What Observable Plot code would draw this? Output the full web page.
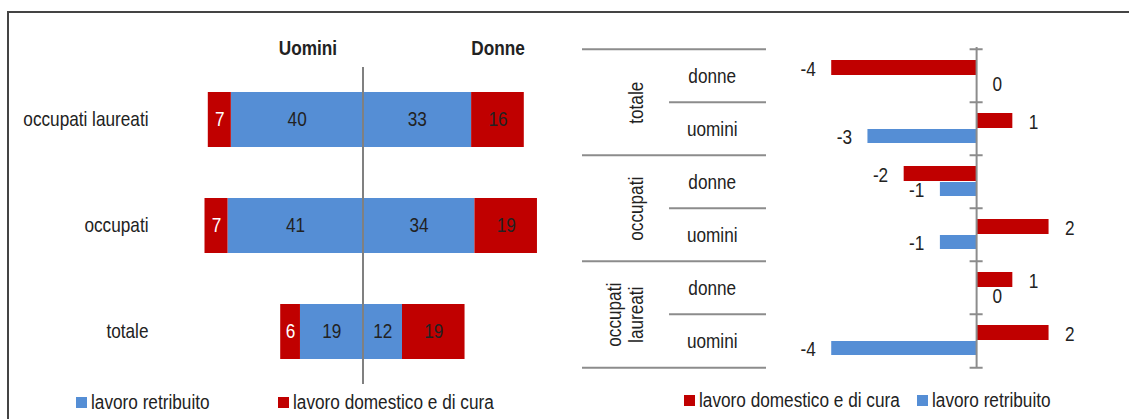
<!DOCTYPE html>
<html>
<head>
<meta charset="utf-8">
<script src="https://cdn.jsdelivr.net/npm/d3@7"></script>
<script src="https://cdn.jsdelivr.net/npm/@observablehq/plot@0.6"></script>
<style>
  body { margin: 0; background: #fff; }
  #chart {
    position: relative; width: 1129px; height: 419px; overflow: hidden;
    font-family: "Liberation Sans", Arial, sans-serif; color: #222;
  }
  #frame {
    position: absolute; left: 7px; top: 11px; right: -10px; bottom: -10px;
    border-top: 2px solid #444; border-left: 2px solid #444;
  }
  #chart svg { position: absolute; top: 0; overflow: visible; }
  .narrow { display: inline-block; transform: scaleX(0.86); transform-origin: 0 50%; }
  .header { position: absolute; font-size: 20px; font-weight: bold; line-height: 20px; white-space: nowrap;
            transform: translateX(-50%) scaleX(0.86); transform-origin: 50% 50%; }
  .item { position: absolute; display: flex; align-items: center; font-size: 20px; line-height: 20px; white-space: nowrap; }
  .sw { display: inline-block; width: 11px; height: 11px; margin-right: 4px; flex: none; }
</style>
</head>
<body>
<div id="chart"><div id="frame"></div></div>
<script>
// Ore settimanali: lavoro retribuito e lavoro domestico e di cura
const categorie = ["occupati laureati", "occupati", "totale"];
const uominiRetribuito = [40, 41, 19];
const uominiDomestico = [7, 7, 6];
const donneRetribuito = [33, 34, 12];
const donneDomestico = [16, 19, 19];

// Differenze per gruppo e sesso
const gruppi = ["totale", "occupati", "occupati\nlaureati"];
const sessi = ["donne", "uomini"];
const diffDomestico = [-4, 1, -2, 2, 1, 2];
const diffRetribuito = [0, -3, -1, -1, 0, -4];

const intestazioni = ["Uomini", "Donne"];
const tipi = ["lavoro retribuito", "lavoro domestico e di cura"];

const blu = "#558ED5";
const rosso = "#C00000";
const testo = "#222";
const grigio = "#8c8c8c";
const font = '"Liberation Sans", Arial, sans-serif';
const stile = {fontFamily: font, fontSize: "20px", color: testo, background: "transparent"};
const chart = document.getElementById("chart");

// testo condensato, come un carattere "narrow"
function condensa(svg) {
  svg.querySelectorAll("text").forEach(t => {
    t.setAttribute("transform", (t.getAttribute("transform") || "") + " scale(0.86,1)");
  });
  return svg;
}

// ---------- Pannello sinistro: barre divergenti uomini / donne ----------
const segmenti = categorie.flatMap((c, i) => {
  const ur = uominiRetribuito[i], ud = uominiDomestico[i];
  const dr = donneRetribuito[i], dd = donneDomestico[i];
  return [
    {cat: c, tipo: tipi[0], lato: "U", x1: 0, x2: -ur, v: ur},
    {cat: c, tipo: tipi[1], lato: "U", x1: -ur, x2: -(ur + ud), v: ud},
    {cat: c, tipo: tipi[0], lato: "D", x1: 0, x2: dr, v: dr},
    {cat: c, tipo: tipi[1], lato: "D", x1: dr, x2: dr + dd, v: dd}
  ];
});
const mid = d => (d.x1 + d.x2) / 2;
const bianco = d => d.tipo === tipi[1] && d.lato === "U";

const sinistro = Plot.plot({
  width: 560, height: 419,
  marginLeft: 165, marginRight: 0, marginTop: 41, marginBottom: 9,
  x: {domain: [-60, 60], axis: null},
  y: {type: "band", domain: categorie, padding: 0.48, axis: null},
  color: {domain: tipi, range: [blu, rosso]},
  style: stile,
  marks: [
    Plot.barX(segmenti, {x1: "x1", x2: "x2", y: "cat", fill: "tipo"}),
    Plot.ruleX([0], {stroke: "#808080", strokeWidth: 2, insetTop: 26, insetBottom: 26}),
    Plot.text(segmenti.filter(bianco), {x: mid, y: "cat", text: "v", fill: "white"}),
    Plot.text(segmenti.filter(d => !bianco(d)), {x: mid, y: "cat", text: "v", fill: testo}),
    Plot.text(categorie, {y: d => d, frameAnchor: "left", textAnchor: "end", dx: -17, fill: testo})
  ]
});
sinistro.style.left = "0px";
chart.appendChild(condensa(sinistro));

// intestazioni Uomini / Donne
[[intestazioni[0], 308], [intestazioni[1], 498]].forEach(([t, cx]) => {
  const h = document.createElement("div");
  h.className = "header";
  h.textContent = t;
  h.style.left = cx + "px";
  h.style.top = "38px";
  chart.appendChild(h);
});

// ---------- Pannello destro: tabella delle righe ----------
const righe = gruppi.flatMap(g => sessi.map(s => ({gruppo: g, sesso: s, key: g + "|" + s})));
const chiavi = righe.map(r => r.key);
const mT = 47, mB = 51, H = 419;
const rowH = (H - mT - mB) / chiavi.length;
const inizioGruppo = righe.filter((r, i) => i % 2 === 0);
const interne = righe.filter((r, i) => i % 2 === 1);
const ultima = [righe[righe.length - 1]];

const tabella = Plot.plot({
  width: 184, height: H,
  marginLeft: 0, marginRight: 0, marginTop: mT, marginBottom: mB,
  x: {domain: [0, 1], axis: null},
  y: {type: "band", domain: chiavi, padding: 0, axis: null},
  style: stile,
  marks: [
    Plot.ruleY(inizioGruppo, {y: "key", dy: -rowH / 2, stroke: grigio, strokeWidth: 2}),
    Plot.ruleY(ultima, {y: "key", dy: rowH / 2, stroke: grigio, strokeWidth: 2}),
    Plot.ruleY(interne, {y: "key", dy: -rowH / 2, x1: 0.473, x2: 1, stroke: grigio, strokeWidth: 2}),
    Plot.text(righe, {x: 0.705, y: "key", text: "sesso", fill: testo, dy: 1}),
    Plot.text(inizioGruppo, {
      x: 0.328, y: "key", dy: rowH / 2, text: "gruppo", rotate: -90,
      lineAnchor: "bottom", textAnchor: "middle", lineHeight: 1.07, fill: testo
    })
  ]
});
tabella.style.left = "582px";
chart.appendChild(condensa(tabella));

// ---------- Pannello destro: barre delle differenze ----------
const dom = righe.map((r, i) => ({key: r.key, v: diffDomestico[i]}));
const ret = righe.map((r, i) => ({key: r.key, v: diffRetribuito[i]}));
const bordi = righe.map(r => ({key: r.key, dy: -rowH / 2})).concat([{key: ultima[0].key, dy: rowH / 2}]);

const etichette = (data, dy) => [
  Plot.text(data.filter(d => d.v < 0), {x: "v", y: "key", text: d => String(d.v), textAnchor: "end", dx: -16, dy, fill: testo}),
  Plot.text(data.filter(d => d.v >= 0), {x: "v", y: "key", text: d => String(d.v), textAnchor: "start", dx: 16, dy, fill: testo})
];

const destro = Plot.plot({
  width: 363, height: H,
  marginLeft: 29, marginRight: 8, marginTop: mT, marginBottom: mB,
  x: {domain: [-5, 4], axis: null},
  y: {type: "band", domain: chiavi, padding: 0, axis: null},
  style: stile,
  marks: [
    Plot.barX(dom, {x: "v", y: "key", fill: rosso, insetTop: 11, insetBottom: 27}),
    Plot.barX(ret, {x: "v", y: "key", fill: blu, insetTop: 27, insetBottom: 12}),
    Plot.ruleX([0], {stroke: grigio, strokeWidth: 2}),
    ...bordi.map(b => Plot.ruleY([b], {y: "key", dy: b.dy, x1: -0.18, x2: 0.18, stroke: grigio, strokeWidth: 2})),
    ...etichette(dom, -6.5),
    ...etichette(ret, 9)
  ]
});
destro.style.left = "766px";
chart.appendChild(condensa(destro));

// ---------- Legende ----------
function voce(label, colore, left, top) {
  const el = document.createElement("div");
  el.className = "item";
  el.style.left = left + "px";
  el.style.top = top + "px";
  const sw = document.createElement("span");
  sw.className = "sw";
  sw.style.background = colore;
  const tx = document.createElement("span");
  tx.className = "narrow";
  tx.textContent = label;
  el.appendChild(sw);
  el.appendChild(tx);
  chart.appendChild(el);
}
voce(tipi[0], blu, 76, 392);
voce(tipi[1], rosso, 278, 392);
voce(tipi[1], rosso, 684, 390);
voce(tipi[0], blu, 917, 390);
</script>
</body>
</html>
